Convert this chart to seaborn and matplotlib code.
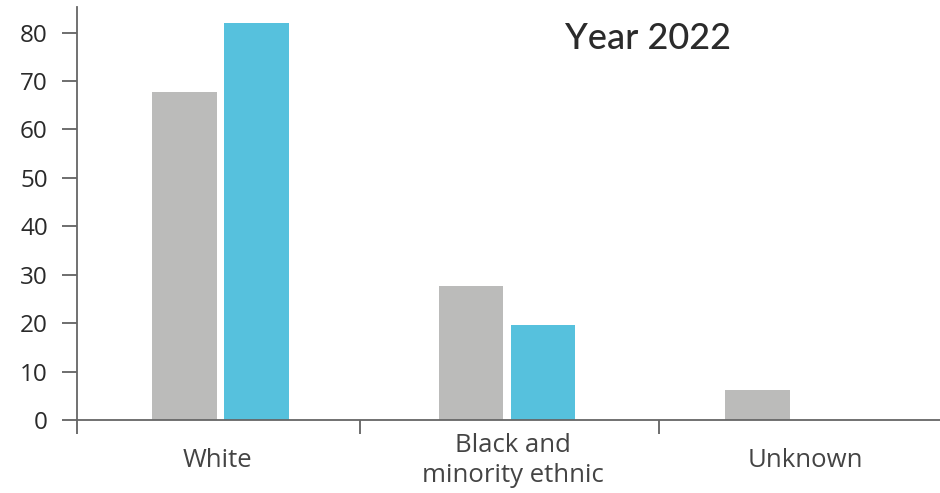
import matplotlib
matplotlib.use("Agg")
import matplotlib.pyplot as plt
import seaborn as sns
import pandas as pd

categories = ["White", "Black and\nminority ethnic", "Unknown"]
series = ["Comparison", "Year 2022"]
grey_values = [67.8, 27.7, 6.3]
blue_values = [82.0, 19.6, 0.0]
y_ticks = [0, 10, 20, 30, 40, 50, 60, 70, 80]

df = pd.DataFrame({
    "group": categories * 2,
    "series": [series[0]] * 3 + [series[1]] * 3,
    "value": grey_values + blue_values,
})

sns.set_style("white")
plt.rcParams["font.family"] = ["Open Sans", "DejaVu Sans"]

fig = plt.figure(figsize=(9.4, 4.93), dpi=100)
ax = fig.add_axes([0.0819, 0.148, 0.918, 0.838])

sns.barplot(data=df, x="group", y="value", hue="series", order=categories,
            hue_order=series, palette=["#bbbbba", "#56c1dd"], saturation=1,
            width=0.502, gap=0.1, legend=False, ax=ax, linewidth=0)

ax.set_xlim(-0.5, 2.51)
ax.set_ylim(0, 85.3)
ax.set_xlabel("")
ax.set_ylabel("")

for side in ["top", "right"]:
    ax.spines[side].set_visible(False)
for side in ["left", "bottom"]:
    ax.spines[side].set_color("#666666")
    ax.spines[side].set_linewidth(1.3)

ax.set_yticks(y_ticks)
ax.set_yticklabels([str(v) for v in y_ticks])
ax.tick_params(axis="y", length=10.5, width=1.2, color="#555555", pad=10.5,
               labelsize=17.5, labelcolor="#2a2a2a", left=True)

# category labels (no marks) and separators between groups
ax.set_xticks([-0.01, 1.02, 2.04])
ax.set_xticklabels(categories)
ax.tick_params(axis="x", length=0, pad=29, labelsize=18.5, labelcolor="#444444")
for lbl in ax.get_xticklabels():
    lbl.set_va("center")
    lbl.set_linespacing(1.25)
ax.set_xticks([-0.5, 0.488, 1.53], minor=True)
ax.tick_params(axis="x", which="minor", length=10, width=1.2, color="#555555",
               bottom=True)

fig.text(565 / 940, 1 - 49 / 493, "Year 2022", ha="left", va="baseline",
         fontsize=26, fontweight="medium", color="#2b2b2b",
         family=["Lato", "DejaVu Sans"])

fig.savefig("out.png", dpi=100)
